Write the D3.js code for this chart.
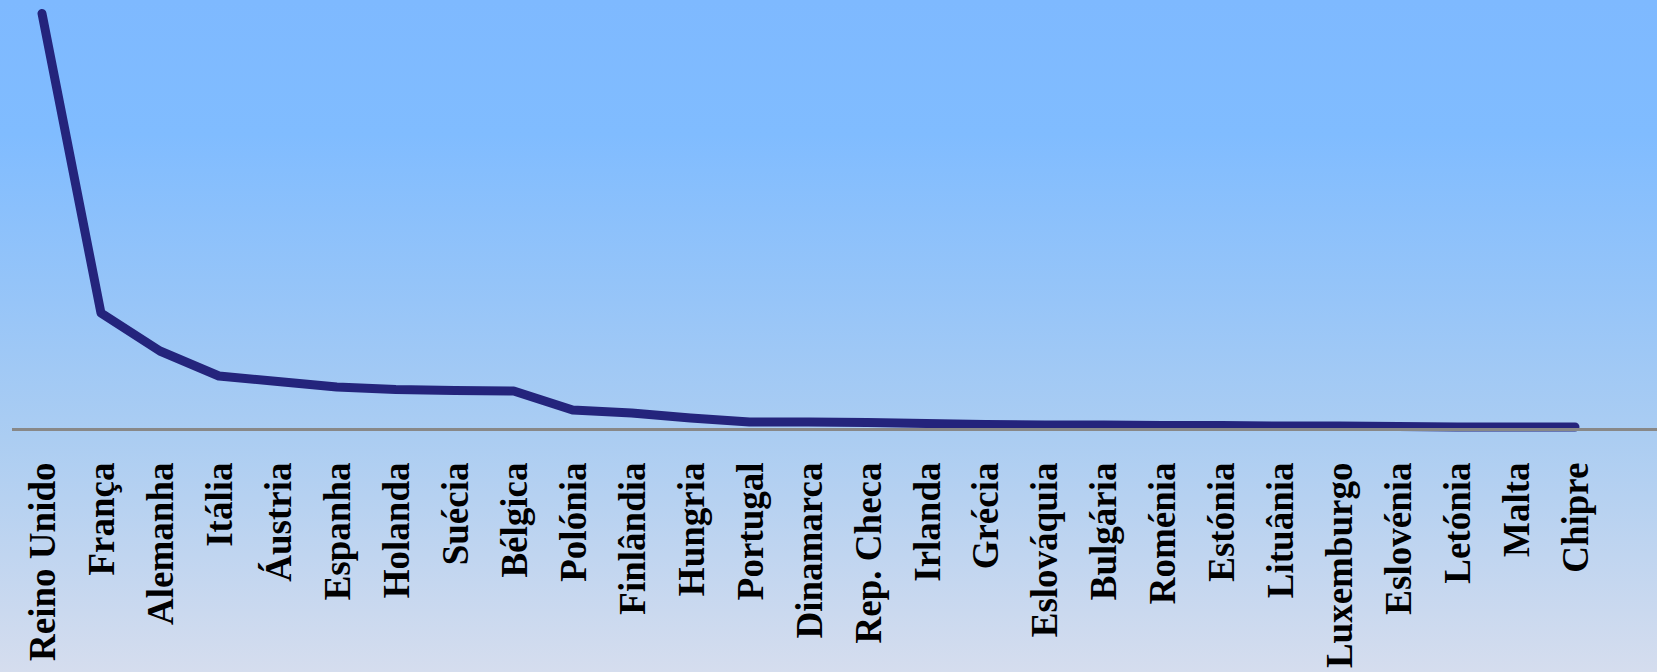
<!DOCTYPE html>
<html>
<head>
  <meta charset="utf-8">
  <title>Países</title>
  <style>
    html, body { margin: 0; padding: 0; overflow: hidden; }
  </style>
</head>
<body>

  <script src="https://d3js.org/d3.v7.min.js" charset="utf-8"></script>
  <script type="text/javascript">

  var countries = ['Reino Unido', 'França', 'Alemanha', 'Itália', 'Áustria', 'Espanha',
                   'Holanda', 'Suécia', 'Bélgica', 'Polónia', 'Finlândia', 'Hungria',
                   'Portugal', 'Dinamarca', 'Rep. Checa', 'Irlanda', 'Grécia', 'Eslováquia',
                   'Bulgária', 'Roménia', 'Estónia', 'Lituânia', 'Luxemburgo', 'Eslovénia',
                   'Letónia', 'Malta', 'Chipre'];

  // values (no scale shown, relative units)
  var values = [416, 116.5, 78.5, 53.5, 48, 42.5,
                40, 39, 38.5, 19.5, 16.5, 11.5,
                7.5, 7.5, 7, 6, 5, 4.5,
                4.5, 4, 4, 3.5, 3.5, 3,
                2.5, 2.5, 2.5];

  var width = 1657,
      height = 672,
      baseY = 429.5,

      svg = d3.select('body')
              .append('svg')
              .attr('width', width)
              .attr('height', height);

  var grad = svg.append('defs')
                .append('linearGradient')
                .attr('id', 'bg')
                .attr('x1', 0).attr('y1', 0)
                .attr('x2', 0).attr('y2', 1);

  [[0, '#7eb9ff'], [0.2, '#80bcff'], [0.45, '#97c5f8'],
   [0.65, '#abcdf2'], [1, '#d5ddee']].forEach(function(s){
    grad.append('stop').attr('offset', s[0]).attr('stop-color', s[1]);
  });

  svg.append('rect')
     .attr('width', width)
     .attr('height', height)
     .attr('fill', 'url(#bg)');

  var x = d3.scalePoint()
            .domain(countries)
            .range([42, 1575]),

      y = d3.scaleLinear()
            .domain([0, 416])
            .range([baseY, 13.5]);

  var data = countries.map(function(c, i){
    return { name: c, value: values[i] };
  });

  // axis: gray baseline, labels rotated
  var axis = d3.axisBottom(x).tickSize(0).tickPadding(0);

  var gx = svg.append('g')
              .attr('transform', 'translate(0,' + baseY + ')')
              .call(axis);

  gx.select('.domain').remove();

  gx.selectAll('.tick text')
    .attr('transform', 'rotate(-90)')
    .attr('x', -33)
    .attr('y', 0)
    .attr('dy', '0.34em')
    .attr('text-anchor', 'end')
    .attr('fill', '#000')
    .style('font-family', '"Liberation Serif", "Times New Roman", serif')
    .style('font-weight', 'bold')
    .style('font-size', '37px');

  var line = d3.line()
               .x(function(d){ return x(d.name) })
               .y(function(d){ return y(d.value) });

  svg.append('path')
     .datum(data)
     .attr('d', line)
     .attr('fill', 'none')
     .attr('stroke', '#24247c')
     .attr('stroke-width', 9)
     .attr('stroke-linejoin', 'round')
     .attr('stroke-linecap', 'round');

  svg.append('line')
     .attr('x1', 12)
     .attr('x2', width)
     .attr('y1', baseY)
     .attr('y2', baseY)
     .attr('stroke', '#888888')
     .attr('stroke-width', 3);

  </script>
</body>
</html>
